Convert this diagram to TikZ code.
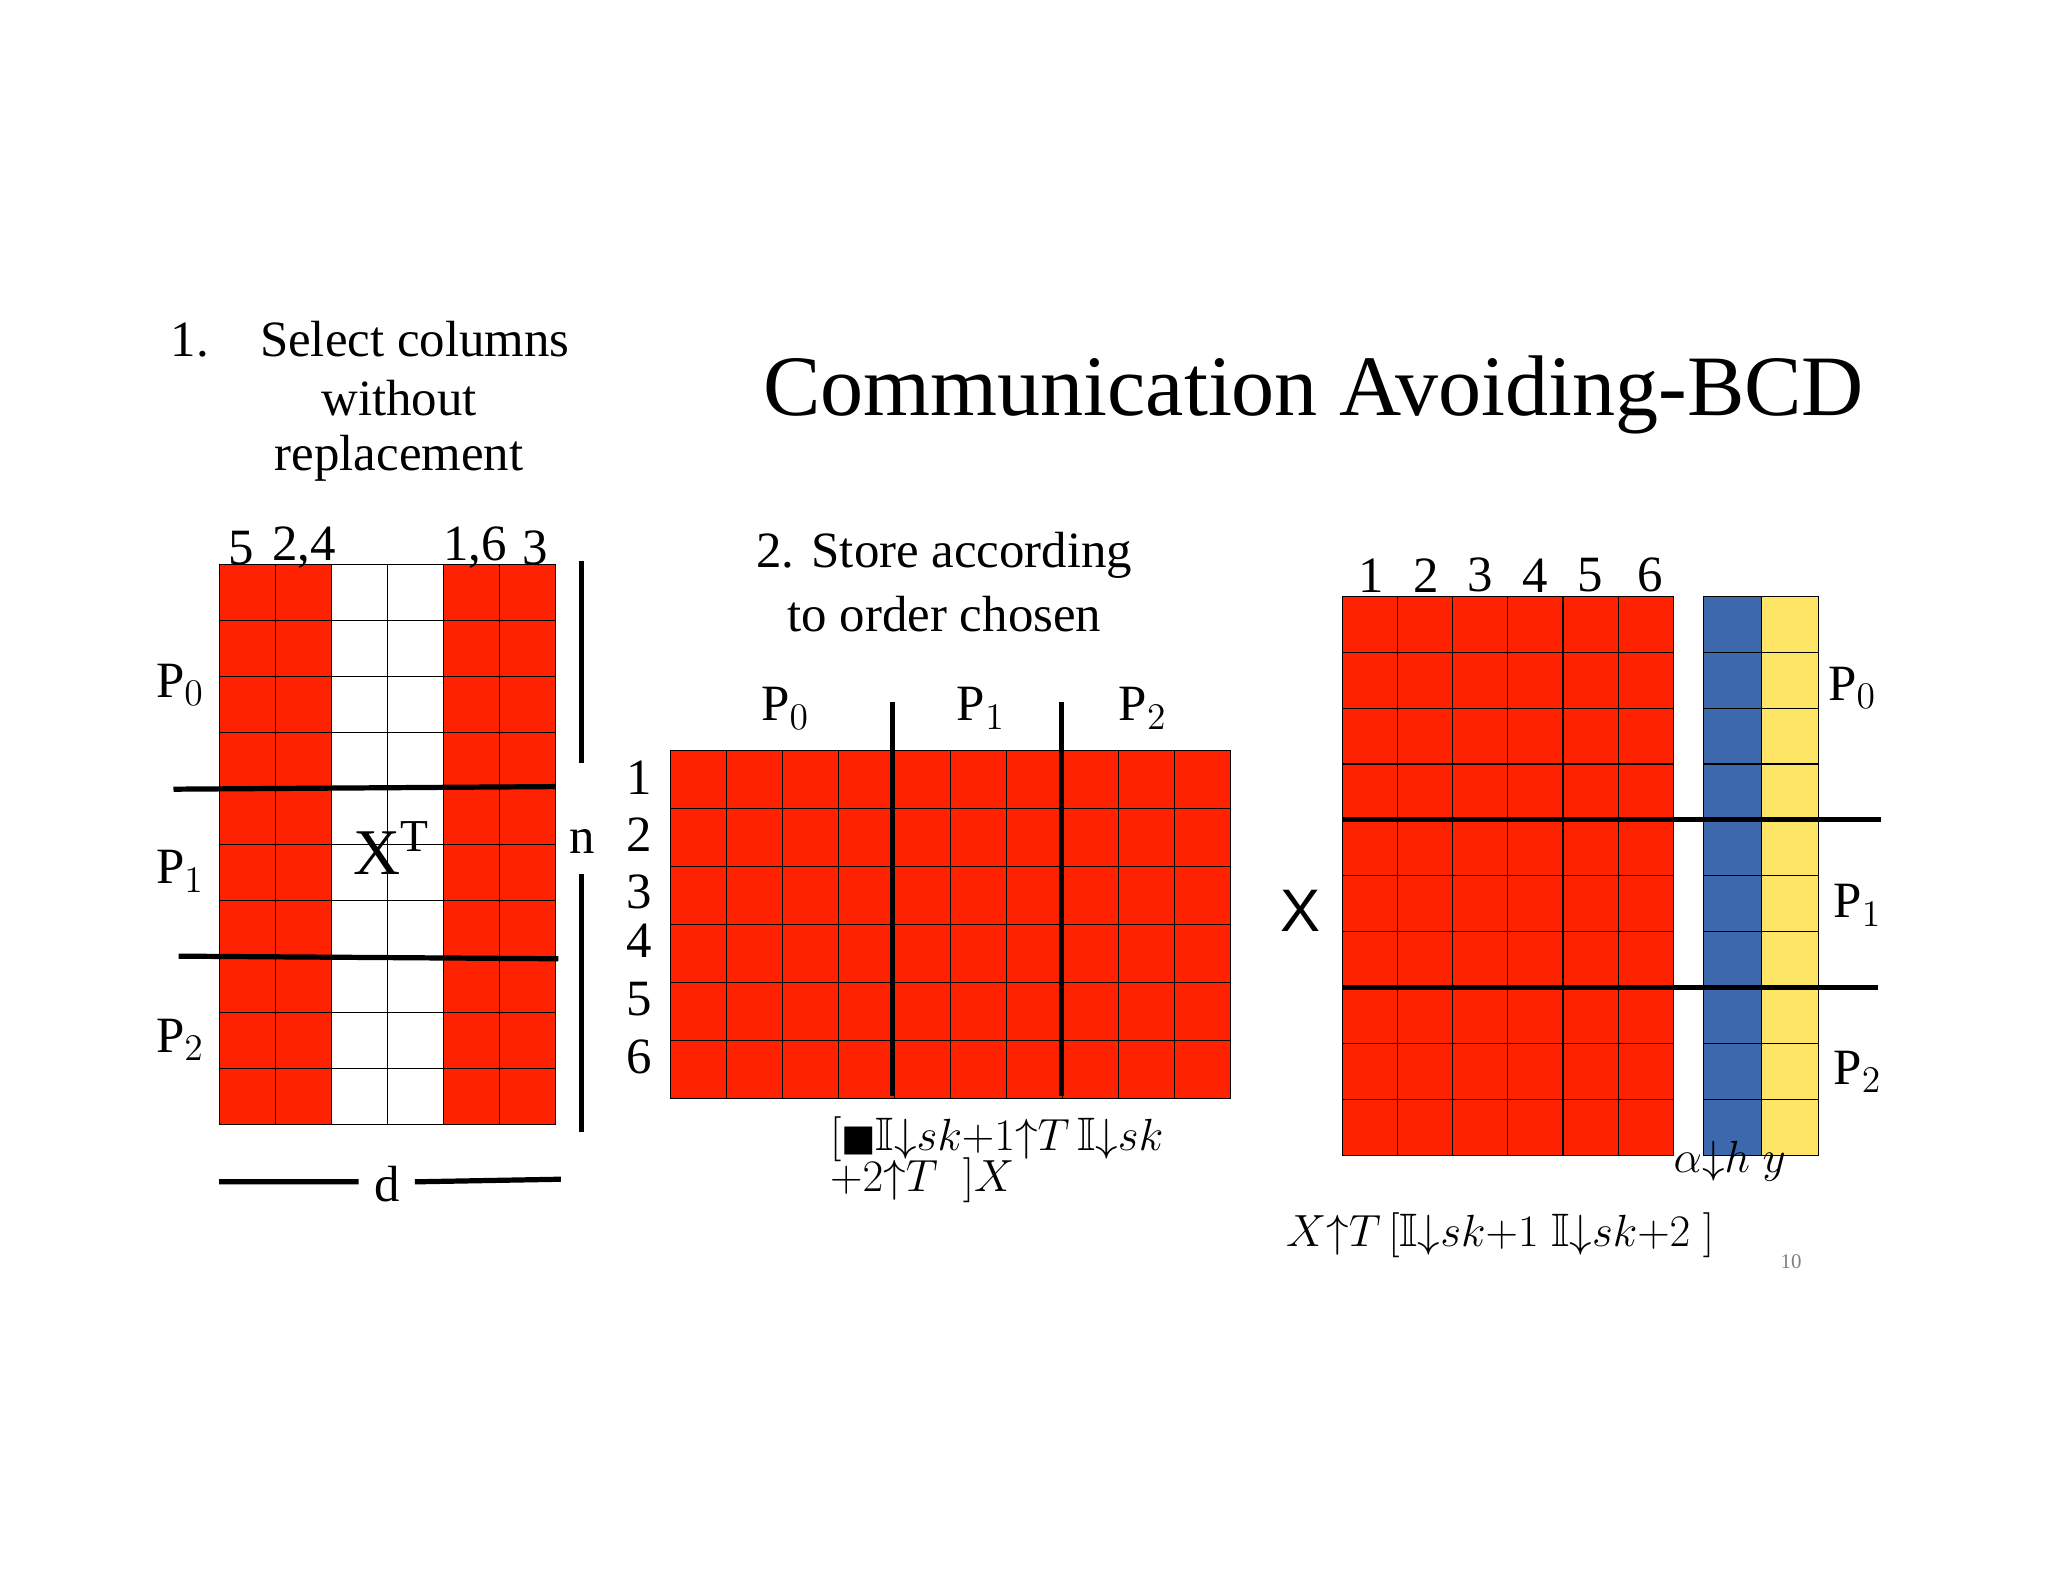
\documentclass[tikz,border=0pt]{standalone}
\usepackage{amssymb}
\usepackage{fontspec}
\setmainfont{Liberation Serif}
\newfontfamily\dvs{DejaVu Sans}
\newfontfamily\lsans{Liberation Sans}
\definecolor{rd}{HTML}{FF2200}
\definecolor{bl}{HTML}{3D68AD}
\definecolor{yl}{HTML}{FFE566}
\tikzset{cellr/.style={fill=rd,draw=black,line width=0.4pt},
cellw/.style={fill=white,draw=black,line width=0.4pt},
bar/.style={line width=2pt},
lab/.style={font=\fontsize{18}{20}\selectfont},
big/.style={font=\fontsize{19.5}{22}\selectfont}}
\begin{document}
\begin{tikzpicture}[x=0.5pt,y=-0.5pt]
\useasboundingbox (0,0) rectangle (1570,1213);
% left grid
\foreach \c/\s in {0/cellr,1/cellr,2/cellw,3/cellw,4/cellr,5/cellr}
 \foreach \r in {0,...,9}
  \path[\s] (168+\c*43,433+\r*42.9) rectangle ++(43,42.9);
\foreach \t/\x in {5/185,{2,4}/233,{1,6}/364,3/410} \node[big] at (\x,420) {\t};
\node[big] (n) at (446,645) {n};
\coordinate (n1) at (446,430); \coordinate (n2) at (446,585);
\coordinate (n3) at (446,670); \coordinate (n4) at (446,868);
\draw[bar] (n1)--(n2) (n3)--(n4);
\coordinate (h1) at (133,605); \coordinate (h2) at (426,603);
\coordinate (h3) at (137,733); \coordinate (h4) at (428,735);
\draw[bar] (h1)--(h2) (h3)--(h4);
\node[big] at (138,525) {P$_0$};
\node[big] at (138,668) {P$_1$};
\node[big] at (138,797) {P$_2$};
\node[font=\fontsize{25}{28}\selectfont] at (300,650) {X$^{\mathrm{T}}$};
\node[big] (d) at (297,908) {d};
\coordinate (d1) at (168,906); \coordinate (d2) at (275,906);
\coordinate (d3) at (318,906); \coordinate (d4) at (430,904);
\draw[bar] (d1)--(d2) (d3)--(d4);
\node[big,anchor=west] at (124,260) {1.\quad Select columns};
\node[big] at (306,305) {without};
\node[big] at (306,351) {replacement};
\node[font=\fontsize{33}{38}\selectfont] at (1007,303) {Communication Avoiding-BCD};
% middle grid
\foreach \c in {0,...,9}
 \foreach \r in {0,...,5}
  \path[cellr] (514+\c*42.9,575+\r*44.5) rectangle ++(42.9,44.5);
\coordinate (v1) at (684,538); \coordinate (v2) at (684,840);
\coordinate (v3) at (814,538); \coordinate (v4) at (814,840);
\draw[bar] (v1)--(v2) (v3)--(v4);
\node[big] at (724,426) {2. Store according};
\node[big] at (724,471) {to order chosen};
\node[big] at (602,543) {P$_0$};
\node[big] at (752,543) {P$_1$};
\node[big] at (876,543) {P$_2$};
\foreach \t/\y in {1/596,2/640,3/684,4/721,5/766,6/810} \node[big,inner sep=1pt] at (490,\y) {\t};
\node[lab,anchor=west,inner sep=0] at (636,873) {$[${\dvs\fontsize{14}{16}\selectfont ■}$\mathbb{I}{\downarrow}sk{+}1{\uparrow}T\,\mathbb{I}{\downarrow}sk$};
\node[lab,anchor=west,inner sep=0] at (636,905) {$+2{\uparrow}T\;\;]X$};
\node[font=\lsans\fontsize{23}{26}\selectfont] at (997,698) {X};
% right grid
\foreach \c in {0,...,5}
 \foreach \r in {0,...,9}
  \path[cellr] (1029+\c*42.3,457+\r*42.9) rectangle ++(42.3,42.9);
\foreach \r in {0,...,9}{
  \path[fill=bl,draw=black,line width=0.4pt] (1306,457+\r*42.9) rectangle ++(44,42.9);
  \path[fill=yl,draw=black,line width=0.4pt] (1350,457+\r*42.9) rectangle ++(44,42.9);}
\foreach \t/\x in {1/1051,2/1093,3/1135,4/1177,5/1219,6/1265} \node[big] at (\x,441) {\t};
\coordinate (r1) at (1029,628); \coordinate (r2) at (1442,628);
\coordinate (r3) at (1029,757); \coordinate (r4) at (1440,757);
\draw[bar] (r1)--(r2) (r3)--(r4);
\node[big] at (1420,527) {P$_0$};
\node[big] at (1424,694) {P$_1$};
\node[big] at (1424,822) {P$_2$};
\node[lab] at (1326,890) {$\alpha{\downarrow}h\;y$};
\node[lab] at (1150,947) {$X{\uparrow}T\,[\mathbb{I}{\downarrow}sk{+}1\;\mathbb{I}{\downarrow}sk{+}2\;]$};
\node[font=\fontsize{8}{9}\selectfont,text=gray] at (1373,967) {10};
\end{tikzpicture}
\end{document}
